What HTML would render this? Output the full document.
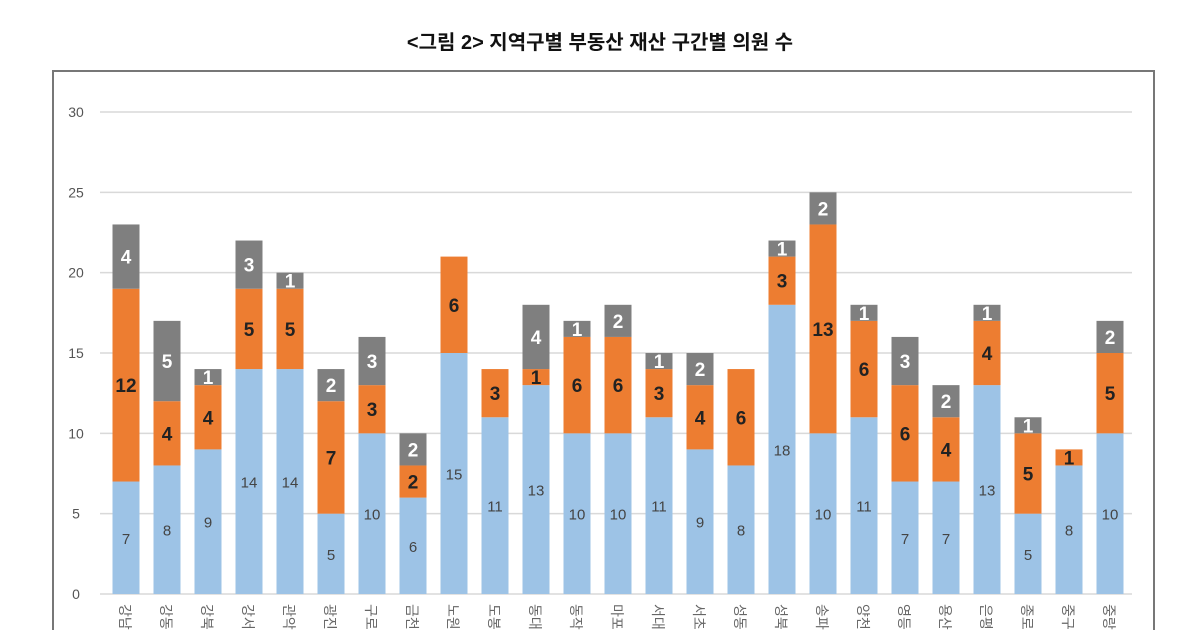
<!DOCTYPE html>
<html><head><meta charset="utf-8"><style>
html,body{margin:0;padding:0;background:#fff;width:1200px;height:630px;overflow:hidden}
svg{display:block;font-family:"Liberation Sans","Noto Sans CJK KR",sans-serif}
</style></head><body>
<svg id="chart" width="1200" height="630">
<text x="600" y="49" text-anchor="middle" font-size="20" font-weight="bold" fill="#111">&lt;그림 2&gt; 지역구별 부동산 재산 구간별 의원 수</text>
<rect x="53" y="71" width="1101" height="570" fill="none" stroke="#777" stroke-width="2"/>
<g id="grid"></g><g id="bars"></g><g id="xl"></g>
</svg>
<script>
const categories=["강남","강동","강북","강서","관악","광진","구로","금천","노원","도봉","동대문","동작","마포","서대문","서초","성동","성북","송파","양천","영등포","용산","은평","종로","중구","중랑"];
const seriesLow=[7,8,9,14,14,5,10,6,15,11,13,10,10,11,9,8,18,10,11,7,7,13,5,8,10];
const seriesMid=[12,4,4,5,5,7,3,2,6,3,1,6,6,3,4,6,3,13,6,6,4,4,5,1,5];
const seriesHigh=[4,5,1,3,1,2,3,2,0,0,4,1,2,1,2,0,1,2,1,3,2,1,1,0,2];
const yTicks=[0,5,10,15,20,25,30];
const NS="http://www.w3.org/2000/svg";
const y0=594,yTop=112,yMax=30;
const y=v=>y0-(v/yMax)*(y0-yTop);
const x=i=>126+i*41;
const bw=27;
function mk(t,a,p){const e=document.createElementNS(NS,t);for(const k in a)e.setAttribute(k,a[k]);p.appendChild(e);return e;}
const grid=document.getElementById('grid');
yTicks.forEach(t=>{
 const l=mk('line',{x1:100,x2:1132,y1:y(t),y2:y(t),stroke:'#d9d9d9','stroke-width':1.5},grid);
 
 
 const tx=mk('text',{x:76,y:y(t)+5,'text-anchor':'middle','font-size':14,fill:'#555'},grid);
 tx.textContent=t;
 
 
});
const bars=document.getElementById('bars');
const cols=['#9dc3e6','#ed7d31','#7f7f7f'];
categories.forEach((c,i)=>{
 const vals=[seriesLow[i],seriesMid[i],seriesHigh[i]];
 let base=0;
 vals.forEach((v,s)=>{
  if(v<=0)return;
  const r=mk('rect',{x:x(i)-bw/2,y:y(base+v),width:bw,height:y(base)-y(base+v),fill:cols[s]},bars);
  
  
  const ty=(y(base)+y(base+v))/2;
  const lab=mk('text',{x:x(i),y:ty+(s===0?6:7),'text-anchor':'middle','font-size':s===0?15:19,'font-weight':s===0?'normal':'bold',fill:s===0?'#444':(s===1?'#222':'#fff')},bars);
  lab.textContent=v;
  
  
  base+=v;
 });
 const t=mk('text',{x:0,y:0,transform:`translate(${x(i)-6},604) rotate(90)`,'font-size':14,fill:'#666'},document.getElementById('xl'));
 t.textContent=c;
 
 
});
</script>
</body></html>
